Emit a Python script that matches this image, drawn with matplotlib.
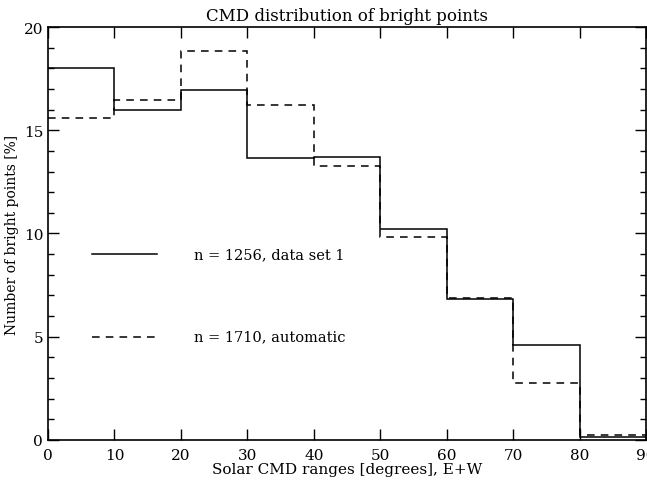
import numpy as np
import matplotlib
matplotlib.use("Agg")
import matplotlib.pyplot as plt

# bin edges (degrees) and percentages per bin
edges = [0, 10, 20, 30, 40, 50, 60, 70, 80, 90]
set1 = [18.0, 16.0, 16.95, 13.65, 13.7, 10.2, 6.85, 4.6, 0.15]
auto = [15.6, 16.45, 18.85, 16.2, 13.25, 9.85, 6.9, 2.75, 0.25]

label1 = "n = 1256, data set 1"
label2 = "n = 1710, automatic"

plt.rcParams['font.family'] = ['DejaVu Serif']

fig = plt.figure(figsize=(6.47, 4.89), dpi=100)
ax = fig.add_axes([0.0742, 0.0982, 0.9243, 0.8445])

ax.stairs(set1, edges, baseline=None, color='black', lw=1.1)
ax.stairs(auto, edges, baseline=None, color='black', lw=1.1, linestyle=(0, (5, 4)))

# legend drawn inside the plot like the original
ax.plot([6.6, 16.4], [9.0, 9.0], color='black', lw=1.1)
ax.plot([6.6, 16.4], [5.0, 5.0], color='black', lw=1.1, linestyle=(0, (5, 4)))
ax.text(22.0, 9.0, label1, va='center', fontsize=10.5)
ax.text(22.0, 5.0, label2, va='center', fontsize=10.5)

ax.set_xlim(0, 90)
ax.set_ylim(0, 20)
ax.set_xticks(np.arange(0, 91, 10))
ax.set_yticks([0, 5, 10, 15, 20])
ax.set_yticks(np.arange(0, 21, 1), minor=True)
ax.tick_params(which='both', direction='in', top=True, right=True, labelsize=11)
ax.tick_params(which='major', length=8, width=1)
ax.tick_params(which='minor', length=4, width=1)
ax.tick_params(axis='x', pad=6)
for s in ax.spines.values():
    s.set_linewidth(1.2)

ax.set_title("CMD distribution of bright points", fontsize=12, pad=5)
ax.set_xlabel("Solar CMD ranges [degrees], E+W", fontsize=11, labelpad=0)
ax.set_ylabel("Number of bright points [%]", fontsize=10, labelpad=3)

fig.savefig("out.png", dpi=100)
